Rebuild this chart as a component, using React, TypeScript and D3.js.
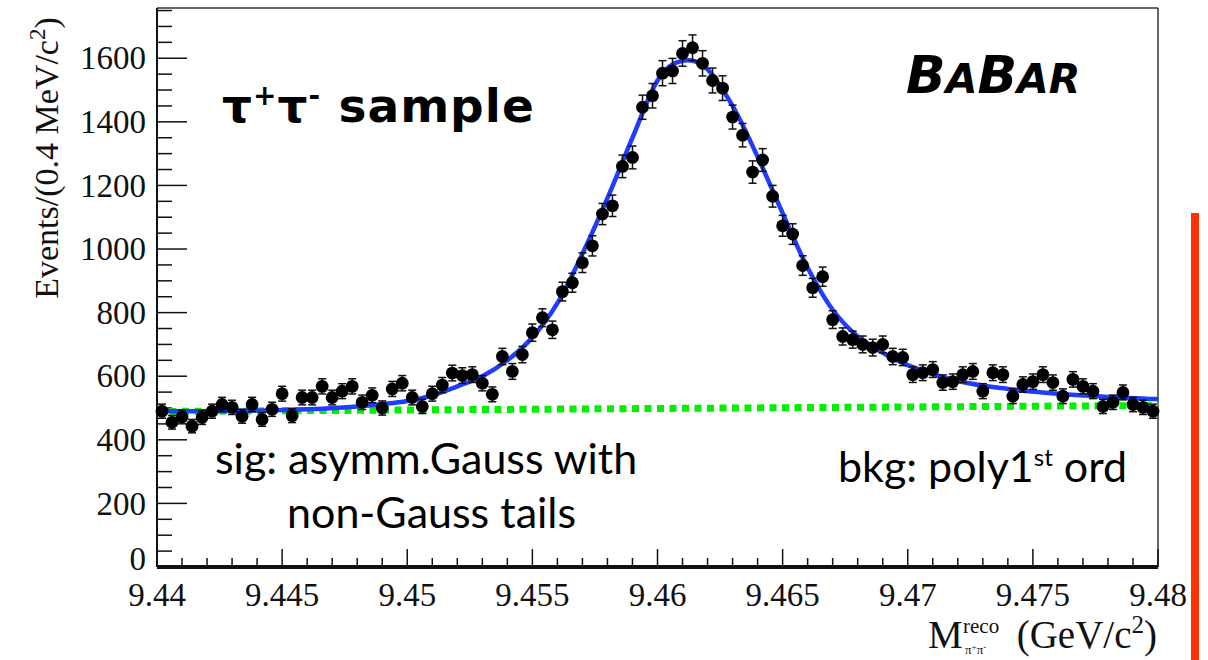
import React from 'react';
import * as d3 from 'd3';

const W = 1208;
const H = 660;

// Histogram binning (0.4 MeV bins from 9.44 to 9.48 GeV)
const BIN_START = 9.44;
const BIN_WIDTH = 0.0004;

// Events per bin
const counts = [
  490, 455, 472, 443, 470, 490, 511, 502, 474, 511,
  464, 496, 545, 476, 533, 533, 568, 533, 553, 568,
  518, 540, 500, 560, 578, 533, 505, 545, 572, 610,
  602, 605, 578, 543, 662, 615, 668, 737, 784, 746,
  866, 894, 957, 1010, 1110, 1136, 1260, 1288, 1446, 1482,
  1553, 1560, 1615, 1633, 1584, 1530, 1506, 1415, 1358, 1242,
  1280, 1166, 1073, 1047, 948, 878, 913, 778, 725, 715,
  700, 690, 700, 662, 659, 605, 611, 621, 580, 583,
  605, 615, 553, 611, 605, 537, 574, 583, 605, 580,
  537, 590, 568, 553, 505, 518, 549, 511, 502, 490,
];

// Total fit curve (blue)
const fitMass = [
  9.44, 9.442, 9.444, 9.446, 9.448, 9.45, 9.451, 9.452, 9.453, 9.454,
  9.455, 9.456, 9.457, 9.458, 9.459, 9.46, 9.4605, 9.461, 9.4615, 9.462,
  9.463, 9.464, 9.465, 9.466, 9.467, 9.468, 9.469, 9.47, 9.472, 9.474,
  9.476, 9.478, 9.48,
];
const fitEvents = [
  490, 490, 492, 496, 505, 522, 540, 568, 600, 650,
  722, 830, 985, 1160, 1350, 1530, 1575, 1592, 1590, 1565,
  1450, 1290, 1113, 941, 809, 725, 674, 635, 585, 560,
  545, 535, 528,
];

// Background: 1st order polynomial (green dotted)
const bkgMass = [9.44, 9.48];
const bkgEvents = [489, 508];

const xTickValues = [9.44, 9.445, 9.45, 9.455, 9.46, 9.465, 9.47, 9.475, 9.48];
const xTickLabels = ['9.44', '9.445', '9.45', '9.455', '9.46', '9.465', '9.47', '9.475', '9.48'];
const yTickValues = [0, 200, 400, 600, 800, 1000, 1200, 1400, 1600];
const yTickLabels = ['0', '200', '400', '600', '800', '1000', '1200', '1400', '1600'];

const SERIF = '"Liberation Serif", "Times New Roman", serif';
const SANS = 'Lato, "Open Sans", sans-serif';
const BOLD_SANS = '"DejaVu Sans", Verdana, sans-serif';

export default function App() {
  const x = d3.scaleLinear().domain([9.44, 9.48]).range([157, 1158]);
  const y = d3.scaleLinear().domain([0, 1758]).range([567, 8]);

  const points = counts.map((n, i) => ({
    m: BIN_START + BIN_WIDTH * (i + 0.5),
    n,
    e: Math.sqrt(n),
  }));

  const fitLine = d3
    .line<number>()
    .x((_, i) => x(fitMass[i]))
    .y((d) => y(d))
    .curve(d3.curveCatmullRom.alpha(0.5));

  const bkgLine = d3
    .line<number>()
    .x((_, i) => x(bkgMass[i]))
    .y((d) => y(d));

  const xMinor = d3.range(0, 41).map((k) => 9.44 + k * 0.001);
  const yMinor = d3.range(0, 36).map((k) => k * 50);

  const [x0, x1] = x.range();
  const [y0, y1] = y.range();

  return (
    <svg
      width={W}
      height={H}
      viewBox={`0 0 ${W} ${H}`}
      style={{ position: 'fixed', left: 0, top: 0, background: '#fff' }}
    >
      <rect x={0} y={0} width={W} height={H} fill="#fff" />

      {/* frame */}
      <line x1={x0} y1={y1} x2={x1} y2={y1} stroke="#333" strokeWidth={1.5} />
      <line x1={x1} y1={y1} x2={x1} y2={y0} stroke="#333" strokeWidth={1.5} />

      {/* y axis */}
      <line x1={x0} y1={y0} x2={x0} y2={y1} stroke="#111" strokeWidth={2} />
      {yMinor.map((v) => (
        <line
          key={'ym' + v}
          x1={x0}
          x2={x0 + (v % 200 === 0 ? 30 : 15)}
          y1={y(v)}
          y2={y(v)}
          stroke="#111"
          strokeWidth={1.5}
        />
      ))}
      {yTickValues.map((v, i) => (
        <text
          key={'yl' + v}
          x={146}
          y={y(v)}
          dy={v === 0 ? '0.1em' : '0.34em'}
          textAnchor="end"
          fontFamily={SERIF}
          fontSize={33}
          fill="#111"
        >
          {yTickLabels[i]}
        </text>
      ))}
      <text
        transform={`translate(58, 158) rotate(-90)`}
        textAnchor="middle"
        fontFamily={SERIF}
        fontSize={34}
        fill="#111"
      >
        Events/(0.4 MeV/c
        <tspan dy={-13} fontSize={23}>2</tspan>
        <tspan dy={13}>)</tspan>
      </text>

      {/* x axis */}
      {xMinor.map((v, k) => (
        <line
          key={'xm' + k}
          x1={x(v)}
          x2={x(v)}
          y1={y0}
          y2={y0 - (k % 5 === 0 ? 18 : 9)}
          stroke="#111"
          strokeWidth={1.5}
        />
      ))}
      <line x1={x0} y1={y0} x2={x1} y2={y0} stroke="#111" strokeWidth={4} />
      {xTickValues.map((v, i) => (
        <text
          key={'xl' + v}
          x={x(v)}
          y={606}
          textAnchor="middle"
          fontFamily={SERIF}
          fontSize={33}
          fill="#111"
        >
          {xTickLabels[i]}
        </text>
      ))}
      {/* x axis title */}
      <text x={928} y={648} fontFamily={SERIF} fontSize={39} fill="#111">M</text>
      <text x={963} y={633} fontFamily={SERIF} fontSize={21} fill="#111">reco</text>
      <text x={965} y={654} fontFamily={SERIF} fontSize={13} fill="#111">
        π<tspan dy={-4} fontSize={9}>+</tspan>
        <tspan dy={4}>π</tspan>
        <tspan dy={-4} fontSize={9}>-</tspan>
      </text>
      <text x={1157} y={648} textAnchor="end" fontFamily={SERIF} fontSize={39} fill="#111">
        (GeV/c<tspan dy={-15} fontSize={25}>2</tspan>
        <tspan dy={15}>)</tspan>
      </text>

      {/* background */}
      <path
        d={bkgLine(bkgEvents) || ''}
        fill="none"
        stroke="#00f000"
        strokeWidth={7}
        strokeDasharray="7 5.5"
      />

      {/* fit */}
      <path d={fitLine(fitEvents) || ''} fill="none" stroke="#1f3cff" strokeWidth={4.5} />

      {/* data */}
      {points.map((p, i) => (
        <g key={'p' + i}>
          <line x1={x(p.m)} x2={x(p.m)} y1={y(p.n - p.e)} y2={y(p.n + p.e)} stroke="#111" strokeWidth={1.5} />
          <line x1={x(p.m) - 4} x2={x(p.m) + 4} y1={y(p.n + p.e)} y2={y(p.n + p.e)} stroke="#111" strokeWidth={1.5} />
          <line x1={x(p.m) - 4} x2={x(p.m) + 4} y1={y(p.n - p.e)} y2={y(p.n - p.e)} stroke="#111" strokeWidth={1.5} />
          <circle cx={x(p.m)} cy={y(p.n)} r={6.4} fill="#000" />
        </g>
      ))}

      {/* annotations */}
      <text x={222} y={122} fontFamily={BOLD_SANS} fontWeight="bold" fontSize={47} letterSpacing={1} fill="#000">
        τ<tspan dy={-17} fontSize={28}>+</tspan>
        <tspan dy={17}>τ</tspan>
        <tspan dy={-17} fontSize={28}>-</tspan>
        <tspan dy={17}> sample</tspan>
      </text>

      <text x={906} y={93} fontFamily={BOLD_SANS} fontWeight="bold" fontStyle="italic" fill="#000">
        <tspan fontSize={52}>B</tspan>
        <tspan fontSize={41}>A</tspan>
        <tspan fontSize={52}>B</tspan>
        <tspan fontSize={41}>AR</tspan>
      </text>

      <text x={215} y={474} fontFamily={SANS} fontSize={43} fill="#000">
        sig: asymm.Gauss with
      </text>
      <text x={287} y={528} fontFamily={SANS} fontSize={43} fill="#000">
        non-Gauss tails
      </text>
      <text x={838} y={482} fontFamily={SANS} fontSize={43} fill="#000">
        bkg: poly1<tspan dy={-16} fontSize={24}>st</tspan>
        <tspan dy={16}> ord</tspan>
      </text>

      {/* red marker line on the right */}
      <line x1={1195} x2={1195} y1={213} y2={660} stroke="#ff3300" strokeWidth={8} />
    </svg>
  );
}
